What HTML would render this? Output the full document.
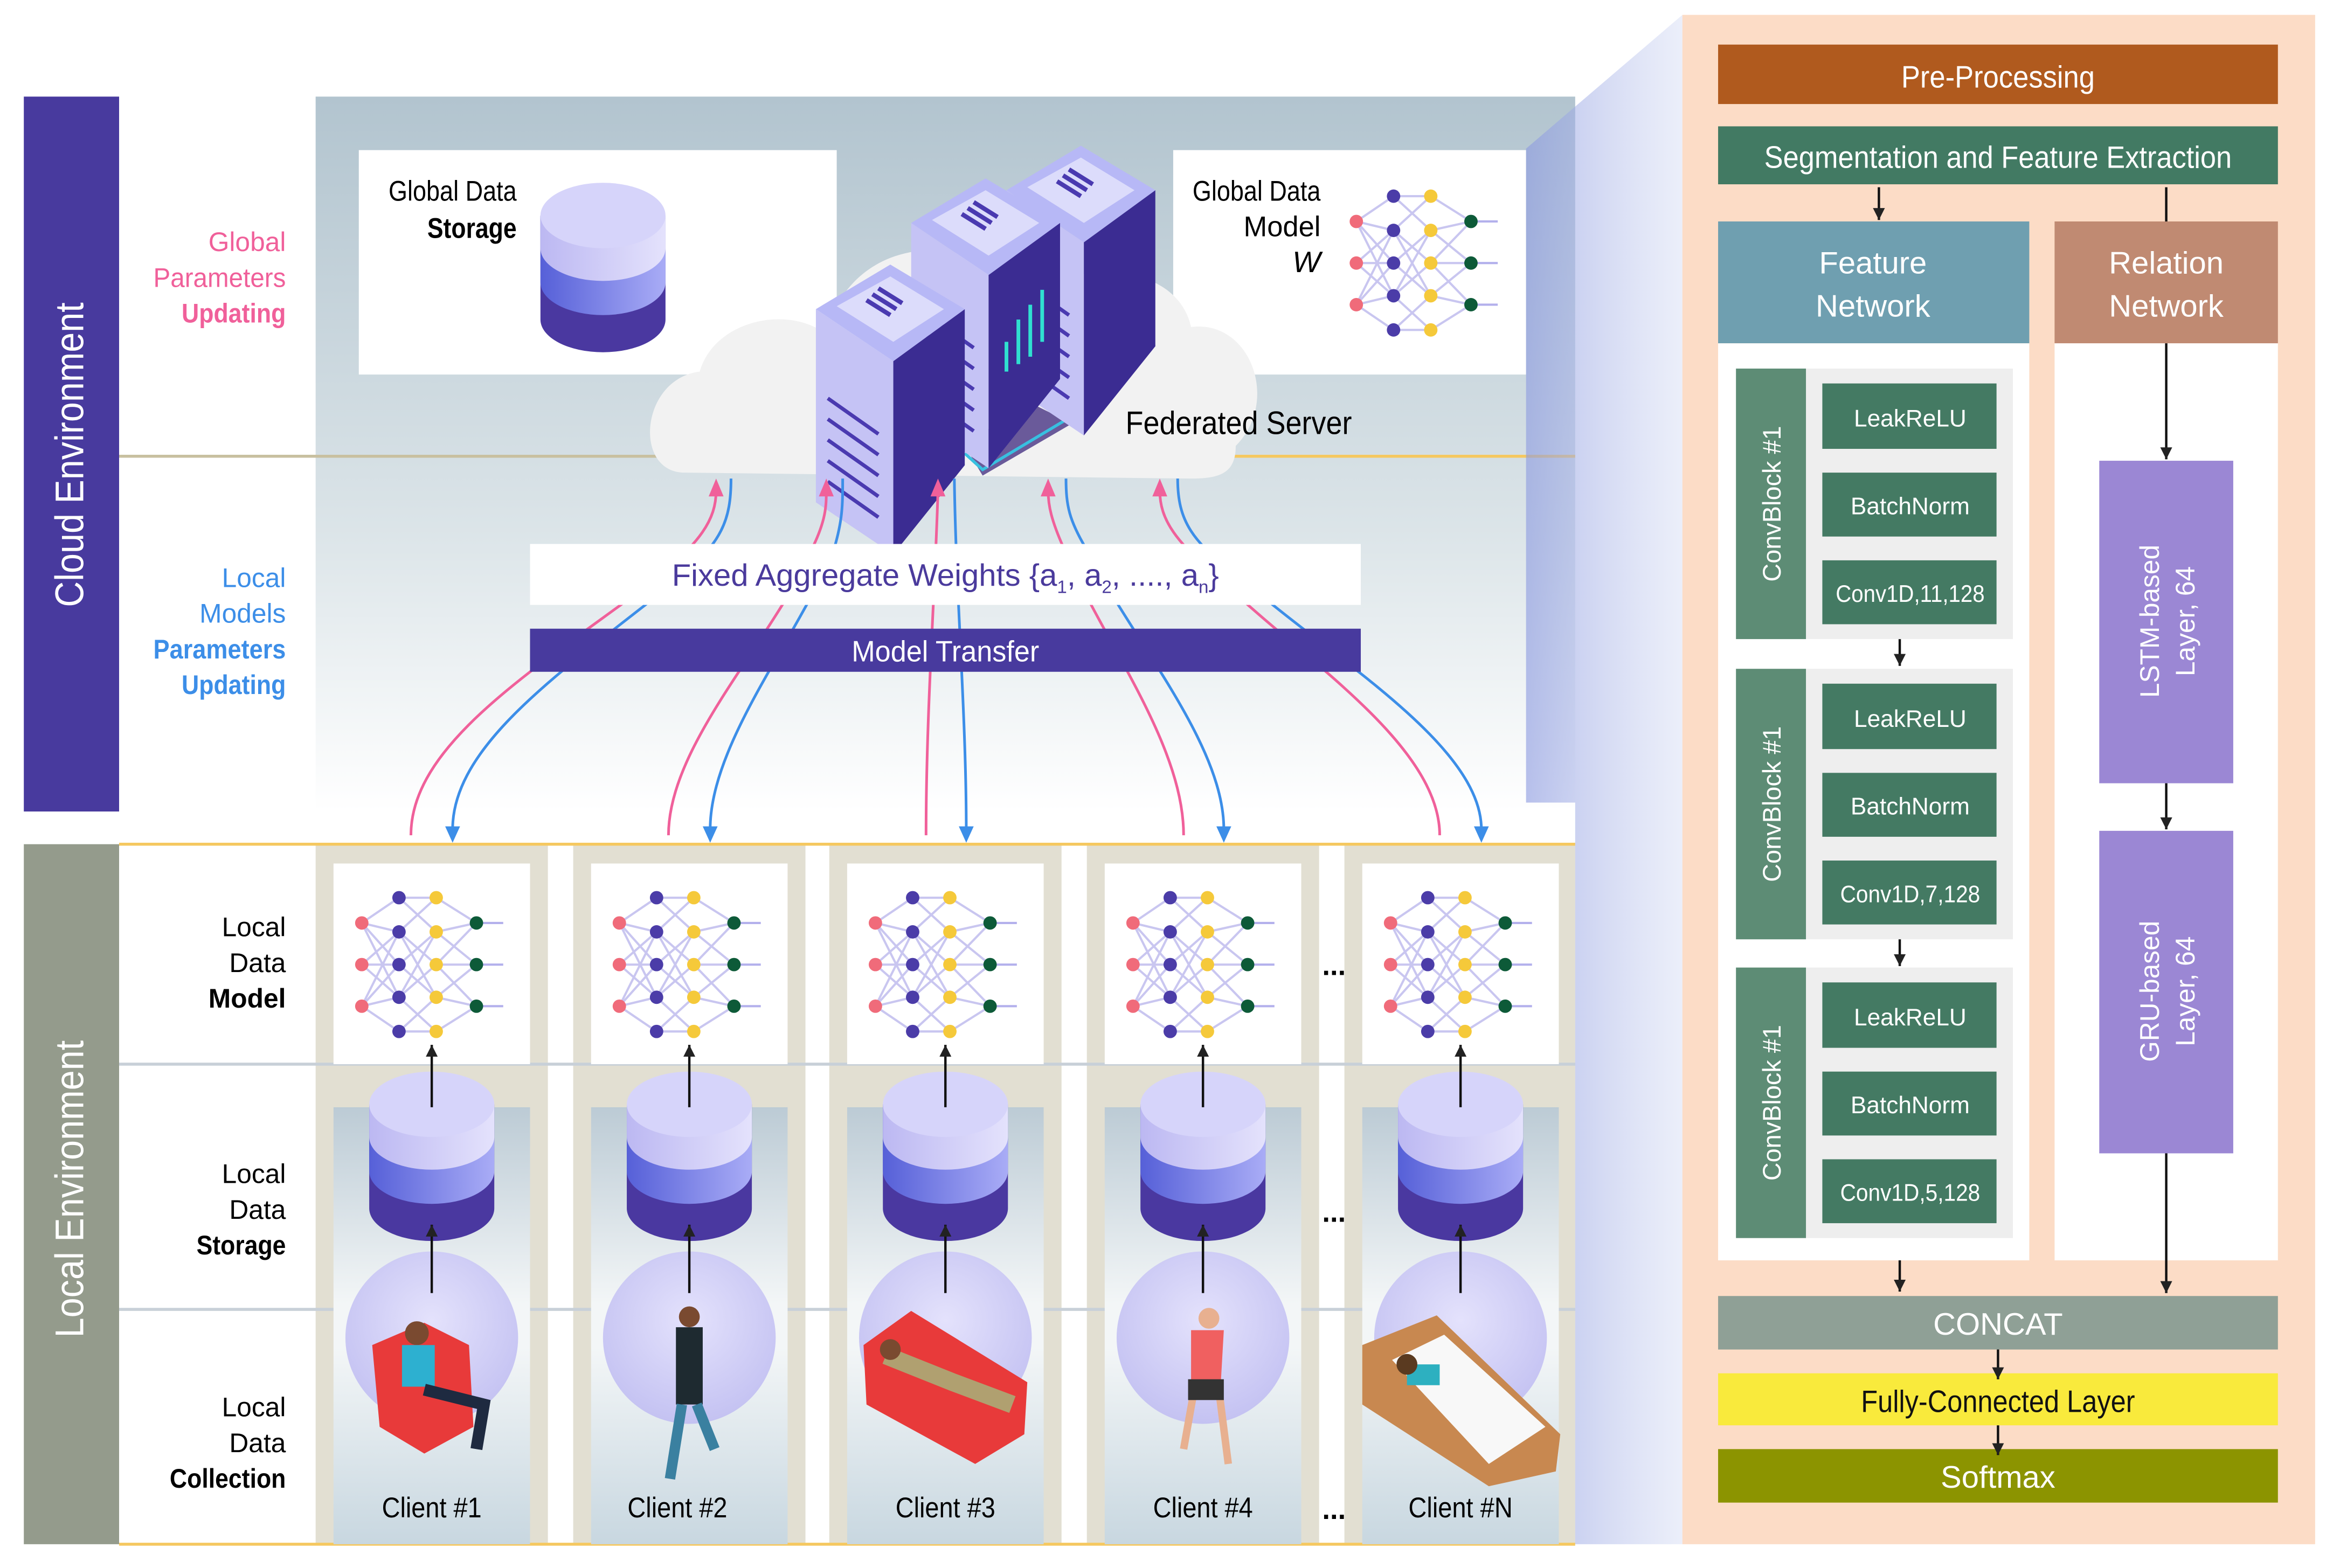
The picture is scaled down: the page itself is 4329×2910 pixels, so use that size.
<!DOCTYPE html>
<html><head><meta charset="utf-8"><style>
html,body{margin:0;padding:0;background:#fff;}
svg{display:block;}
text{font-family:"Liberation Sans Narrow","Liberation Sans",sans-serif;}
</style></head><body>
<svg width="4329" height="2910" viewBox="0 0 1567 1055" preserveAspectRatio="none" xmlns="http://www.w3.org/2000/svg">
<defs>
<linearGradient id="sky" x1="0" y1="0" x2="0" y2="1"><stop offset="0" stop-color="#b2c4cf"/><stop offset="0.6" stop-color="#dbe4e8"/><stop offset="1" stop-color="#ffffff"/></linearGradient>
<linearGradient id="low" x1="0" y1="0" x2="0" y2="1"><stop offset="0" stop-color="#bccbd5"/><stop offset="0.45" stop-color="#f3f6f7"/><stop offset="0.55" stop-color="#f3f6f7"/><stop offset="1" stop-color="#c8d7e0"/></linearGradient>
<linearGradient id="wedge" x1="0" y1="0" x2="1" y2="0"><stop offset="0" stop-color="#8d9be0" stop-opacity="0.9"/><stop offset="1" stop-color="#c7d0f0" stop-opacity="0.5"/></linearGradient>
<linearGradient id="db1" x1="0" y1="0" x2="1" y2="0"><stop offset="0" stop-color="#bcb8f2"/><stop offset="1" stop-color="#e4e2fc"/></linearGradient>
<linearGradient id="db2" x1="0" y1="0" x2="1" y2="0"><stop offset="0" stop-color="#5660d8"/><stop offset="1" stop-color="#a9acf6"/></linearGradient>
<radialGradient id="circ" cx="0.5" cy="0.4" r="0.6"><stop offset="0" stop-color="#e4e2fc"/><stop offset="1" stop-color="#c4c2f2"/></radialGradient>
<g id="db">
 <path d="M-42,-35 v70 a42,22 0 0 0 84,0 v-70 z" fill="#4a38a0"/>
 <path d="M-42,-35 v45 a42,22 0 0 0 84,0 v-45 z" fill="url(#db2)"/>
 <path d="M-42,-35 v22 a42,22 0 0 0 84,0 v-22 z" fill="url(#db1)"/>
 <ellipse cx="0" cy="-35" rx="42" ry="22" fill="#d6d4fa"/>
</g>
<g id="nn">
 <g stroke="#c9c6f0" stroke-width="1.5" fill="none">
  <path d="M-47,-28 L-22,-45 M-47,-28 L-22,-22 M-47,-28 L-22,0 M-47,0 L-22,-22 M-47,0 L-22,0 M-47,0 L-22,22 M-47,28 L-22,0 M-47,28 L-22,22 M-47,28 L-22,45 M-47,-28 L-22,22 M-47,28 L-22,-22"/>
  <path d="M-22,-45 L3,-45 M-22,-45 L3,-22 M-22,-22 L3,-45 M-22,-22 L3,0 M-22,0 L3,-22 M-22,0 L3,22 M-22,22 L3,0 M-22,22 L3,45 M-22,45 L3,22 M-22,45 L3,45 M-22,-22 L3,22 M-22,22 L3,-22"/>
  <path d="M3,-45 L30,-28 M3,-22 L30,-28 M3,-22 L30,0 M3,0 L30,0 M3,0 L30,-28 M3,0 L30,28 M3,22 L30,0 M3,22 L30,28 M3,45 L30,28"/>
  <path d="M30,-28 L48,-28 M30,0 L48,0 M30,28 L48,28" stroke="#b3b0ec"/>
 </g>
 <g fill="#f06b7a"><circle cx="-47" cy="-28" r="4.5"/><circle cx="-47" cy="0" r="4.5"/><circle cx="-47" cy="28" r="4.5"/></g>
 <g fill="#4b3ca8"><circle cx="-22" cy="-45" r="4.5"/><circle cx="-22" cy="-22" r="4.5"/><circle cx="-22" cy="0" r="4.5"/><circle cx="-22" cy="22" r="4.5"/><circle cx="-22" cy="45" r="4.5"/></g>
 <g fill="#f5c93a"><circle cx="3" cy="-45" r="4.5"/><circle cx="3" cy="-22" r="4.5"/><circle cx="3" cy="0" r="4.5"/><circle cx="3" cy="22" r="4.5"/><circle cx="3" cy="45" r="4.5"/></g>
 <g fill="#0d5a38"><circle cx="30" cy="-28" r="4.5"/><circle cx="30" cy="0" r="4.5"/><circle cx="30" cy="28" r="4.5"/></g>
</g>
<g id="srv">
 <polygon points="0,0 52,35 52,165 0,130" fill="#c5c3f5"/>
 <polygon points="52,35 100,0 100,105 52,165" fill="#3b2c92"/>
 <polygon points="0,0 50,-30 100,0 52,35" fill="#b7b8f6"/>
 <polygon points="14,-2 50,-22 86,0 52,22" fill="#dcdcfb"/>
 <g stroke="#4a3ab0" stroke-width="3"><line x1="42" y1="-14" x2="58" y2="-4"/><line x1="38" y1="-10" x2="54" y2="0"/><line x1="34" y1="-6" x2="50" y2="4"/></g>
 <g stroke="#4a3ab0" stroke-width="2.5"><line x1="8" y1="60" x2="42" y2="84"/><line x1="8" y1="74" x2="42" y2="98"/><line x1="8" y1="88" x2="42" y2="112"/><line x1="8" y1="102" x2="42" y2="126"/><line x1="8" y1="116" x2="42" y2="140"/></g>
</g>
<marker id="ab" markerWidth="9" markerHeight="9" refX="8" refY="4" orient="auto" markerUnits="userSpaceOnUse"><path d="M0,0 L8,4 L0,8 z" fill="#222"/></marker>
</defs>

<!-- left bars -->
<rect x="16" y="65" width="64" height="481" fill="#483a9e"/>
<text transform="translate(56,306) rotate(-90)" text-anchor="middle" font-size="27" fill="#fff" textLength="205" lengthAdjust="spacingAndGlyphs" style="font-family:'Liberation Sans',sans-serif">Cloud Environment</text>
<rect x="16" y="568" width="64" height="471" fill="#949b8c"/>
<text transform="translate(56,800) rotate(-90)" text-anchor="middle" font-size="27" fill="#fff" textLength="200" lengthAdjust="spacingAndGlyphs" style="font-family:'Liberation Sans',sans-serif">Local Environment</text>

<g font-size="18" text-anchor="end">
<text x="192" y="169" fill="#f0609a">Global</text>
<text x="192" y="193" fill="#f0609a" textLength="89" lengthAdjust="spacingAndGlyphs">Parameters</text>
<text x="192" y="217" fill="#f0609a" font-weight="bold" textLength="70" lengthAdjust="spacingAndGlyphs">Updating</text>
<text x="192" y="395" fill="#3c8ee8">Local</text>
<text x="192" y="419" fill="#3c8ee8">Models</text>
<text x="192" y="443" fill="#3c8ee8" font-weight="bold" textLength="89" lengthAdjust="spacingAndGlyphs">Parameters</text>
<text x="192" y="467" fill="#3c8ee8" font-weight="bold" textLength="70" lengthAdjust="spacingAndGlyphs">Updating</text>
</g>

<!-- cloud panel -->
<rect x="212" y="65" width="846" height="481" fill="url(#sky)"/>
<line x1="80" y1="307" x2="640" y2="307" stroke="#c8c0a0" stroke-width="2"/>
<line x1="640" y1="307" x2="1058" y2="307" stroke="#f5c860" stroke-width="2"/>
<rect x="241" y="101" width="321" height="151" fill="#fff"/>
<text x="347" y="135" text-anchor="end" font-size="19" textLength="86" lengthAdjust="spacingAndGlyphs">Global Data</text>
<text x="347" y="160" text-anchor="end" font-size="19" font-weight="bold" textLength="60" lengthAdjust="spacingAndGlyphs">Storage</text>
<use href="#db" x="405" y="180"/>
<rect x="788" y="101" width="237" height="151" fill="#fff"/>
<text x="887" y="135" text-anchor="end" font-size="19" textLength="86" lengthAdjust="spacingAndGlyphs">Global Data</text>
<text x="887" y="159" text-anchor="end" font-size="19">Model</text>
<text x="887" y="183" text-anchor="end" font-size="20" font-style="italic">W</text>
<use href="#nn" x="958" y="177"/>

<!-- cloud -->
<path d="M460,318 C425,318 430,255 470,250 C480,215 530,205 555,225 C570,160 650,150 690,200 C720,175 790,175 800,220 C840,215 860,270 830,300 C830,318 820,322 800,322 Z" fill="#f2f2f2"/>
<polygon points="648,300 690,270 720,285 660,320" fill="#6a5a9a"/>
<polyline points="648,305 660,316 720,280" fill="none" stroke="#38c0e0" stroke-width="2"/>
<use href="#srv" x="676" y="128"/>
<use href="#srv" x="612" y="150"/>
<g stroke="#30e0d0" stroke-width="2.5"><line x1="676" y1="230" x2="676" y2="250"/><line x1="684" y1="215" x2="684" y2="245"/><line x1="692" y1="205" x2="692" y2="240"/><line x1="700" y1="195" x2="700" y2="230"/></g>
<use href="#srv" x="548" y="208"/>
<text x="756" y="292" font-size="22" textLength="152" lengthAdjust="spacingAndGlyphs">Federated Server</text>

<!-- curves -->
<g fill="none" stroke-width="1.8">
<path d="M276,562 C276,500 360,450 440,390 C470,365 481,350 481,330" stroke="#f0609a"/>
<path d="M304,558 C304,500 380,450 455,390 C485,365 491,350 491,322" stroke="#3c8ee8"/>
<path d="M449,562 C449,500 520,430 545,370 C555,350 555,340 555,330" stroke="#f0609a"/>
<path d="M477,558 C477,500 535,430 560,370 C566,350 566,340 566,322" stroke="#3c8ee8"/>
<path d="M622,562 C622,480 628,400 630,330" stroke="#f0609a"/>
<path d="M649,558 C649,480 642,400 641,322" stroke="#3c8ee8"/>
<path d="M795,562 C795,500 740,430 715,370 C706,350 704,340 704,330" stroke="#f0609a"/>
<path d="M822,558 C822,500 760,430 730,370 C718,350 716,340 716,322" stroke="#3c8ee8"/>
<path d="M967,562 C967,500 870,440 820,390 C790,365 779,350 779,330" stroke="#f0609a"/>
<path d="M995,558 C995,500 890,440 835,390 C800,365 791,350 791,322" stroke="#3c8ee8"/>
</g>
<g fill="#f0609a"><path d="M476,334 L481,322 L486,334z"/><path d="M550,334 L555,322 L560,334z"/><path d="M625,334 L630,322 L635,334z"/><path d="M699,334 L704,322 L709,334z"/><path d="M774,334 L779,322 L784,334z"/></g>
<g fill="#3c8ee8"><path d="M299,556 L304,567 L309,556z"/><path d="M472,556 L477,567 L482,556z"/><path d="M644,556 L649,567 L654,556z"/><path d="M817,556 L822,567 L827,556z"/><path d="M990,556 L995,567 L1000,556z"/></g>

<rect x="356" y="366" width="558" height="41" fill="#fff"/>
<text x="635" y="394" text-anchor="middle" font-size="21" fill="#4a3a9c">Fixed Aggregate Weights {a<tspan font-size="12" dy="5">1</tspan><tspan dy="-5">, a</tspan><tspan font-size="12" dy="5">2</tspan><tspan dy="-5">, ...., a</tspan><tspan font-size="12" dy="5">n</tspan><tspan dy="-5">}</tspan></text>
<rect x="356" y="423" width="558" height="29" fill="#483a9e"/>
<text x="635" y="445" text-anchor="middle" font-size="20" fill="#fff" textLength="126" lengthAdjust="spacingAndGlyphs">Model Transfer</text>

<!-- local -->
<rect x="80" y="568" width="978" height="471" fill="#fff"/>
<g fill="#e2dfd2">
<rect x="212" y="568" width="156" height="471"/><rect x="385" y="568" width="156" height="471"/><rect x="557" y="568" width="156" height="471"/><rect x="730" y="568" width="156" height="471"/><rect x="903" y="568" width="155" height="471"/>
</g>
<line x1="80" y1="568" x2="1058" y2="568" stroke="#f5c860" stroke-width="2"/>
<line x1="80" y1="716" x2="1058" y2="716" stroke="#c8d0d8" stroke-width="2"/>
<line x1="80" y1="881" x2="1058" y2="881" stroke="#c8d0d8" stroke-width="2"/>
<line x1="80" y1="1039" x2="1058" y2="1039" stroke="#f5c860" stroke-width="2"/>
<g font-size="18" text-anchor="end">
<text x="192" y="630">Local</text><text x="192" y="654">Data</text><text x="192" y="678" font-weight="bold">Model</text>
<text x="192" y="796">Local</text><text x="192" y="820">Data</text><text x="192" y="844" font-weight="bold" textLength="60" lengthAdjust="spacingAndGlyphs">Storage</text>
<text x="192" y="953">Local</text><text x="192" y="977">Data</text><text x="192" y="1001" font-weight="bold" textLength="78" lengthAdjust="spacingAndGlyphs">Collection</text>
</g>
<g>
<g transform="translate(290,0)"><rect x="-66" y="581" width="132" height="135" fill="#fff"/><rect x="-66" y="745" width="132" height="294" fill="url(#low)"/></g>
<g transform="translate(463,0)"><rect x="-66" y="581" width="132" height="135" fill="#fff"/><rect x="-66" y="745" width="132" height="294" fill="url(#low)"/></g>
<g transform="translate(635,0)"><rect x="-66" y="581" width="132" height="135" fill="#fff"/><rect x="-66" y="745" width="132" height="294" fill="url(#low)"/></g>
<g transform="translate(808,0)"><rect x="-66" y="581" width="132" height="135" fill="#fff"/><rect x="-66" y="745" width="132" height="294" fill="url(#low)"/></g>
<g transform="translate(981,0)"><rect x="-66" y="581" width="132" height="135" fill="#fff"/><rect x="-66" y="745" width="132" height="294" fill="url(#low)"/></g>
</g>
<g>
<circle cx="290" cy="900" r="58" fill="url(#circ)"/><circle cx="463" cy="900" r="58" fill="url(#circ)"/><circle cx="635" cy="900" r="58" fill="url(#circ)"/><circle cx="808" cy="900" r="58" fill="url(#circ)"/><circle cx="981" cy="900" r="58" fill="url(#circ)"/>
</g>
<use href="#nn" x="290" y="649"/><use href="#nn" x="463" y="649"/><use href="#nn" x="635" y="649"/><use href="#nn" x="808" y="649"/><use href="#nn" x="981" y="649"/>
<use href="#db" x="290" y="778"/><use href="#db" x="463" y="778"/><use href="#db" x="635" y="778"/><use href="#db" x="808" y="778"/><use href="#db" x="981" y="778"/>
<g>
<path d="M250,905 L285,890 L315,905 L318,960 L285,978 L255,960 Z" fill="#e83a3a"/>
<circle cx="280" cy="897" r="8" fill="#7a4a30"/><rect x="270" y="905" width="22" height="28" fill="#2db0d0"/><path d="M285,935 L325,945 L320,975" stroke="#1e2a40" stroke-width="8" fill="none"/>
<circle cx="463" cy="886" r="7" fill="#7a4a30"/><rect x="454" y="893" width="18" height="52" fill="#1e2a30"/><path d="M458,945 L450,995 M468,945 L480,975" stroke="#3a80a0" stroke-width="7"/>
<path d="M580,905 L612,882 L690,930 L688,965 L655,985 L582,945 Z" fill="#e83a3a"/>
<path d="M595,912 L640,930 L680,945" stroke="#b0a070" stroke-width="12" fill="none"/><circle cx="598" cy="908" r="7" fill="#7a4a30"/>
<circle cx="812" cy="887" r="7" fill="#e8b090"/><path d="M800,895 L822,895 L820,930 L800,930Z" fill="#f06060"/><path d="M803,930 L795,975 M818,930 L825,985" stroke="#e8b090" stroke-width="5"/><rect x="798" y="928" width="24" height="14" fill="#333"/>
<path d="M915,905 L965,885 L1048,965 L1045,990 L1000,1000 L915,945 Z" fill="#c88850"/><path d="M935,915 L970,898 L1038,960 L1000,985 Z" fill="#f8f8f8"/><rect x="945" y="918" width="22" height="14" fill="#2db0c0"/><circle cx="945" cy="918" r="7" fill="#5a3a20"/>
</g>
<g stroke="#111" stroke-width="1.6" marker-end="url(#ab)">
<line x1="290" y1="870" x2="290" y2="824"/><line x1="463" y1="870" x2="463" y2="824"/><line x1="635" y1="870" x2="635" y2="824"/><line x1="808" y1="870" x2="808" y2="824"/><line x1="981" y1="870" x2="981" y2="824"/>
<line x1="290" y1="745" x2="290" y2="703"/><line x1="463" y1="745" x2="463" y2="703"/><line x1="635" y1="745" x2="635" y2="703"/><line x1="808" y1="745" x2="808" y2="703"/><line x1="981" y1="745" x2="981" y2="703"/>
</g>
<g font-size="19" text-anchor="middle">
<text x="290" y="1021" textLength="67" lengthAdjust="spacingAndGlyphs">Client #1</text><text x="455" y="1021" textLength="67" lengthAdjust="spacingAndGlyphs">Client #2</text><text x="635" y="1021" textLength="67" lengthAdjust="spacingAndGlyphs">Client #3</text><text x="808" y="1021" textLength="67" lengthAdjust="spacingAndGlyphs">Client #4</text><text x="981" y="1021" textLength="70" lengthAdjust="spacingAndGlyphs">Client #N</text>
<text x="896" y="656" font-weight="bold">...</text><text x="896" y="822" font-weight="bold">...</text><text x="896" y="1022" font-weight="bold">...</text>
</g>

<!-- wedge -->
<polygon points="1025,100 1130,10 1130,1039 1058,1039 1058,540 1025,540" fill="url(#wedge)" opacity="0.7"/>

<!-- right panel -->
<rect x="1130" y="10" width="425" height="1029" fill="#fcdcc6"/>
<rect x="1154" y="30" width="376" height="40" fill="#b05a1e"/>
<text x="1342" y="59" text-anchor="middle" font-size="21" fill="#fff" textLength="130" lengthAdjust="spacingAndGlyphs">Pre-Processing</text>
<rect x="1154" y="85" width="376" height="39" fill="#427a63"/>
<text x="1342" y="113" text-anchor="middle" font-size="21" fill="#fff" textLength="314" lengthAdjust="spacingAndGlyphs">Segmentation and Feature Extraction</text>
<rect x="1154" y="149" width="209" height="82" fill="#6f9fb0"/>
<text x="1258" y="184" text-anchor="middle" font-size="21" fill="#fff">Feature</text>
<text x="1258" y="213" text-anchor="middle" font-size="21" fill="#fff">Network</text>
<rect x="1380" y="149" width="150" height="82" fill="#c08a72"/>
<text x="1455" y="184" text-anchor="middle" font-size="21" fill="#fff">Relation</text>
<text x="1455" y="213" text-anchor="middle" font-size="21" fill="#fff">Network</text>
<rect x="1154" y="231" width="209" height="617" fill="#fff"/>
<rect x="1380" y="231" width="150" height="617" fill="#fff"/>
<g>
<g transform="translate(0,0)">
<rect x="1166" y="248" width="186" height="182" fill="#eeeeee"/><rect x="1166" y="248" width="47" height="182" fill="#5d8c75"/>
<text transform="translate(1196,339) rotate(-90)" text-anchor="middle" font-size="17" fill="#fff" style="font-family:'Liberation Sans',sans-serif">ConvBlock #1</text>
<rect x="1224" y="258" width="117" height="44" fill="#447a63"/><rect x="1224" y="318" width="117" height="43" fill="#447a63"/><rect x="1224" y="377" width="117" height="43" fill="#447a63"/>
<text x="1283" y="287" text-anchor="middle" font-size="16" fill="#fff">LeakReLU</text><text x="1283" y="346" text-anchor="middle" font-size="16" fill="#fff">BatchNorm</text><text x="1283" y="405" text-anchor="middle" font-size="16" fill="#fff" textLength="100" lengthAdjust="spacingAndGlyphs">Conv1D,11,128</text>
</g>
<g transform="translate(0,202)">
<rect x="1166" y="248" width="186" height="182" fill="#eeeeee"/><rect x="1166" y="248" width="47" height="182" fill="#5d8c75"/>
<text transform="translate(1196,339) rotate(-90)" text-anchor="middle" font-size="17" fill="#fff" style="font-family:'Liberation Sans',sans-serif">ConvBlock #1</text>
<rect x="1224" y="258" width="117" height="44" fill="#447a63"/><rect x="1224" y="318" width="117" height="43" fill="#447a63"/><rect x="1224" y="377" width="117" height="43" fill="#447a63"/>
<text x="1283" y="287" text-anchor="middle" font-size="16" fill="#fff">LeakReLU</text><text x="1283" y="346" text-anchor="middle" font-size="16" fill="#fff">BatchNorm</text><text x="1283" y="405" text-anchor="middle" font-size="16" fill="#fff" textLength="94" lengthAdjust="spacingAndGlyphs">Conv1D,7,128</text>
</g>
<g transform="translate(0,403)">
<rect x="1166" y="248" width="186" height="182" fill="#eeeeee"/><rect x="1166" y="248" width="47" height="182" fill="#5d8c75"/>
<text transform="translate(1196,339) rotate(-90)" text-anchor="middle" font-size="17" fill="#fff" style="font-family:'Liberation Sans',sans-serif">ConvBlock #1</text>
<rect x="1224" y="258" width="117" height="44" fill="#447a63"/><rect x="1224" y="318" width="117" height="43" fill="#447a63"/><rect x="1224" y="377" width="117" height="43" fill="#447a63"/>
<text x="1283" y="287" text-anchor="middle" font-size="16" fill="#fff">LeakReLU</text><text x="1283" y="346" text-anchor="middle" font-size="16" fill="#fff">BatchNorm</text><text x="1283" y="405" text-anchor="middle" font-size="16" fill="#fff" textLength="94" lengthAdjust="spacingAndGlyphs">Conv1D,5,128</text>
</g>
</g>
<rect x="1410" y="310" width="90" height="217" fill="#9b87d4"/>
<text transform="translate(1450,418) rotate(-90)" text-anchor="middle" font-size="18" fill="#fff" style="font-family:'Liberation Sans',sans-serif">LSTM-based</text>
<text transform="translate(1474,418) rotate(-90)" text-anchor="middle" font-size="18" fill="#fff" style="font-family:'Liberation Sans',sans-serif">Layer, 64</text>
<rect x="1410" y="559" width="90" height="217" fill="#9b87d4"/>
<text transform="translate(1450,667) rotate(-90)" text-anchor="middle" font-size="18" fill="#fff" style="font-family:'Liberation Sans',sans-serif">GRU-based</text>
<text transform="translate(1474,667) rotate(-90)" text-anchor="middle" font-size="18" fill="#fff" style="font-family:'Liberation Sans',sans-serif">Layer, 64</text>
<rect x="1154" y="872" width="376" height="36" fill="#8fa096"/>
<text x="1342" y="898" text-anchor="middle" font-size="21" fill="#fff">CONCAT</text>
<rect x="1154" y="924" width="376" height="35" fill="#f9ea3c"/>
<text x="1342" y="950" text-anchor="middle" font-size="21" fill="#111" textLength="184" lengthAdjust="spacingAndGlyphs">Fully-Connected Layer</text>
<rect x="1154" y="975" width="376" height="36" fill="#8c9400"/>
<text x="1342" y="1001" text-anchor="middle" font-size="21" fill="#fff">Softmax</text>
<g stroke="#111" stroke-width="1.6" marker-end="url(#ab)">
<line x1="1262" y1="126" x2="1262" y2="148"/>
<line x1="1455" y1="231" x2="1455" y2="309"/>
<line x1="1455" y1="527" x2="1455" y2="558"/>
<line x1="1455" y1="776" x2="1455" y2="870"/>
<line x1="1276" y1="430" x2="1276" y2="448"/>
<line x1="1276" y1="632" x2="1276" y2="650"/>
<line x1="1276" y1="848" x2="1276" y2="869"/>
<line x1="1342" y1="908" x2="1342" y2="928"/>
<line x1="1342" y1="959" x2="1342" y2="979"/>
</g>
<line x1="1455" y1="126" x2="1455" y2="149" stroke="#111" stroke-width="1.6"/>
</svg>
</body></html>
